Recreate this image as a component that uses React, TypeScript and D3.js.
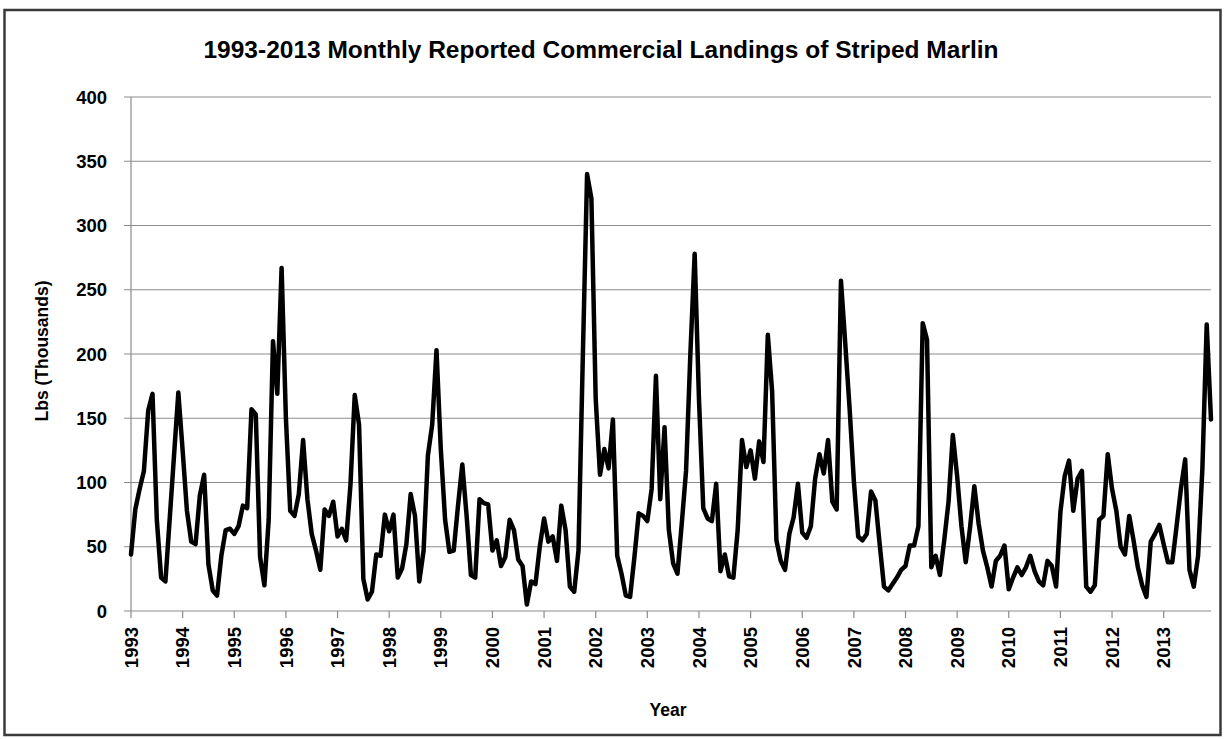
import React from "react";
import * as d3 from "d3";

// Monthly landings (thousand lbs), Jan..Dec for each year
const y1993 = [44, 79, 95, 109, 156, 169, 71, 26, 23, 72, 121, 170];
const y1994 = [125, 78, 54, 52, 90, 106, 36, 16, 12, 43, 63, 64];
const y1995 = [60, 66, 82, 80, 157, 153, 42, 20, 71, 210, 169, 267];
const y1996 = [150, 78, 74, 91, 133, 87, 60, 47, 32, 79, 74, 85];
const y1997 = [58, 64, 55, 98, 168, 145, 25, 9, 15, 44, 43, 75];
const y1998 = [62, 75, 26, 33, 52, 91, 74, 23, 47, 121, 145, 203];
const y1999 = [126, 71, 46, 47, 82, 114, 74, 28, 26, 87, 84, 83];
const y2000 = [47, 55, 35, 42, 71, 63, 40, 35, 5, 23, 21, 50];
const y2001 = [72, 54, 58, 39, 82, 63, 19, 15, 47, 197, 340, 321];
const y2002 = [165, 106, 126, 111, 149, 43, 29, 12, 11, 42, 76, 74];
const y2003 = [70, 95, 183, 87, 143, 63, 37, 29, 68, 109, 200, 278];
const y2004 = [165, 80, 72, 70, 99, 31, 44, 27, 26, 63, 133, 112];
const y2005 = [125, 103, 132, 116, 215, 171, 55, 39, 32, 60, 73, 99];
const y2006 = [61, 57, 66, 103, 122, 107, 133, 85, 79, 257, 208, 158];
const y2007 = [101, 58, 55, 60, 93, 86, 52, 19, 16, 21, 26, 32];
const y2008 = [35, 51, 51, 66, 224, 211, 34, 43, 28, 55, 85, 137];
const y2009 = [105, 66, 38, 65, 97, 68, 47, 34, 19, 39, 43, 51];
const y2010 = [17, 26, 34, 28, 34, 43, 31, 23, 20, 39, 35, 19];
const y2011 = [77, 105, 117, 78, 103, 109, 19, 15, 20, 71, 74, 122];
const y2012 = [95, 78, 50, 44, 74, 55, 34, 20, 11, 54, 60, 67];
const y2013 = [52, 38, 38, 66, 95, 118, 32, 19, 43, 111, 223, 149];

const yearLabels = [
  "1993", "1994", "1995", "1996", "1997", "1998", "1999", "2000", "2001", "2002", "2003",
  "2004", "2005", "2006", "2007", "2008", "2009", "2010", "2011", "2012", "2013",
];
const yTicks = [0, 50, 100, 150, 200, 250, 300, 350, 400];

const series = [
  y1993, y1994, y1995, y1996, y1997, y1998, y1999, y2000, y2001, y2002, y2003,
  y2004, y2005, y2006, y2007, y2008, y2009, y2010, y2011, y2012, y2013,
].flat();

const W = 1225;
const H = 739;
const left = 131;
const right = 1211;
const top = 97;
const bottom = 611;
const FONT = "'Liberation Sans', Arial, sans-serif";

export default function App() {
  const x = d3.scaleLinear().domain([0, series.length - 1]).range([left, right]);
  const y = d3.scaleLinear().domain([0, 400]).range([bottom, top]);
  const line = d3
    .line<number>()
    .x((_, i) => x(i))
    .y((d) => y(d));

  return (
    <div style={{ position: "absolute", left: 0, top: 0 }}>
      <svg width={W} height={H} style={{ display: "block", background: "#fff" }}>
        <rect x={4.5} y={10} width={1216} height={725} fill="#fff" stroke="#3a3a3a" strokeWidth={2.5} />
        <text
          x={601}
          y={58}
          textAnchor="middle"
          fontFamily={FONT}
          fontWeight="bold"
          fontSize={24.5}
          fill="#000"
        >
          1993-2013 Monthly Reported Commercial Landings of Striped Marlin
        </text>
        {yTicks.map((t) => (
          <g key={t}>
            <line x1={left - 7} x2={right} y1={y(t)} y2={y(t)} stroke="#8c8c8c" strokeWidth={1.2} />
            <text
              x={left - 24}
              y={y(t)}
              dy="0.36em"
              textAnchor="end"
              fontFamily={FONT}
              fontWeight="bold"
              fontSize={18.5}
            >
              {t}
            </text>
          </g>
        ))}
        <line x1={left} x2={left} y1={top} y2={bottom} stroke="#8c8c8c" strokeWidth={1.2} />
        {yearLabels.map((lab, k) => {
          const xx = x(k * 12);
          return (
            <g key={lab}>
              <line x1={xx} x2={xx} y1={bottom} y2={bottom + 7} stroke="#8c8c8c" strokeWidth={1.2} />
              <text
                transform={`translate(${xx},${bottom + 16}) rotate(-90)`}
                dy="0.36em"
                textAnchor="end"
                fontFamily={FONT}
                fontWeight="bold"
                fontSize={18.5}
              >
                {lab}
              </text>
            </g>
          );
        })}
        <path
          d={line(series) || ""}
          fill="none"
          stroke="#000"
          strokeWidth={4.5}
          strokeLinejoin="round"
          strokeLinecap="round"
        />
        <text
          transform={`translate(42,${(top + bottom) / 2 - 3}) rotate(-90)`}
          textAnchor="middle"
          dy="0.36em"
          fontFamily={FONT}
          fontWeight="bold"
          fontSize={17.5}
        >
          Lbs (Thousands)
        </text>
        <text x={668} y={716} textAnchor="middle" fontFamily={FONT} fontWeight="bold" fontSize={17.5}>
          Year
        </text>
      </svg>
    </div>
  );
}
